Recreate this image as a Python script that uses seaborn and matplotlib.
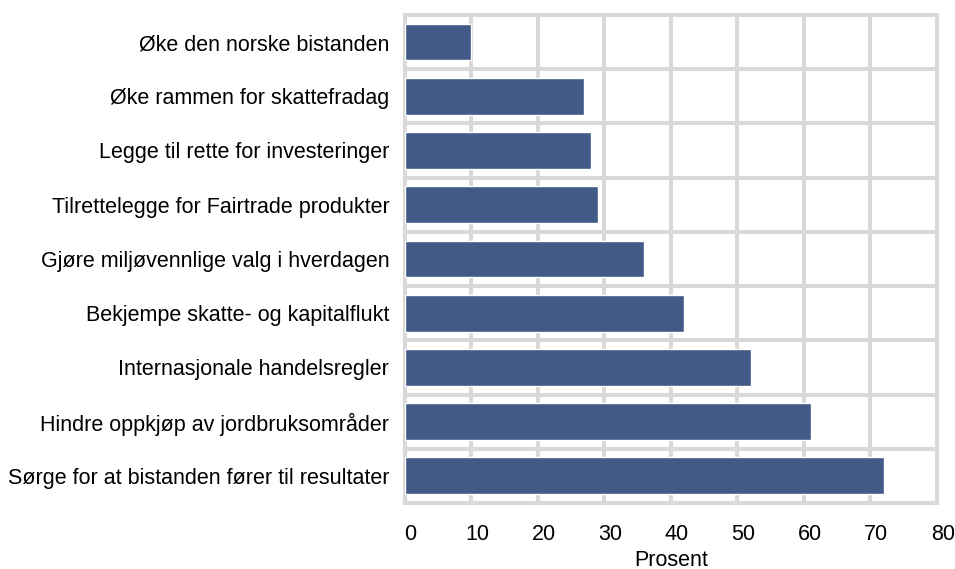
import pandas as pd
import matplotlib
matplotlib.use("Agg")
import matplotlib.pyplot as plt
import matplotlib.transforms as mtransforms
import seaborn as sns

# Data
tiltak = [
    "Øke den norske bistanden",
    "Øke rammen for skattefradag",
    "Legge til rette for investeringer",
    "Tilrettelegge for Fairtrade produkter",
    "Gjøre miljøvennlige valg i hverdagen",
    "Bekjempe skatte- og kapitalflukt",
    "Internasjonale handelsregler",
    "Hindre oppkjøp av jordbruksområder",
    "Sørge for at bistanden fører til resultater",
]
prosent = [10, 27, 28, 29, 36, 42, 52, 61, 72]
x_ticks = [0, 10, 20, 30, 40, 50, 60, 70, 80]

df = pd.DataFrame({"Tiltak": tiltak, "Prosent": prosent})

sns.set_style("white")
plt.rcParams["font.family"] = ["Liberation Sans", "DejaVu Sans"]

grid_col = "#d9d9d9"
bar_col = "#415a87"
fs = 15.5

fig = plt.figure(figsize=(9.55, 5.69), dpi=100)
ax = fig.add_axes([0.4236, 0.116, 0.5575, 0.8578])

sns.barplot(data=df, x="Prosent", y="Tiltak", orient="h", color=bar_col,
            width=0.68, saturation=1, ax=ax, zorder=3)

ax.set_xlim(0, 80)
ax.set_ylim(len(tiltak) - 0.5, -0.5)
ax.set_xticks(x_ticks)
ax.set_xticklabels([str(t) for t in x_ticks])

# grid: vertical at each tick, horizontal between categories
ax.set_yticks([i + 0.5 for i in range(len(tiltak) - 1)], minor=True)
ax.grid(axis="x", which="major", color=grid_col, linewidth=2.9, zorder=0)
ax.grid(axis="y", which="minor", color=grid_col, linewidth=2.9, zorder=0)
ax.grid(axis="y", which="major", visible=False)
ax.set_axisbelow(True)

for s in ax.spines.values():
    s.set_visible(True)
    s.set_color(grid_col)
    s.set_linewidth(2.9)

ax.tick_params(axis="both", which="both", length=0, labelsize=fs, colors="black")
ax.tick_params(axis="y", pad=11)
ax.tick_params(axis="x", pad=15)

offset = mtransforms.ScaledTranslation(0.06, 0, fig.dpi_scale_trans)
for lbl in ax.get_xticklabels():
    lbl.set_transform(lbl.get_transform() + offset)

ax.set_ylabel("")
ax.set_xlabel("Prosent", fontsize=fs, color="black", labelpad=4)

fig.savefig("out.png", dpi=100)
